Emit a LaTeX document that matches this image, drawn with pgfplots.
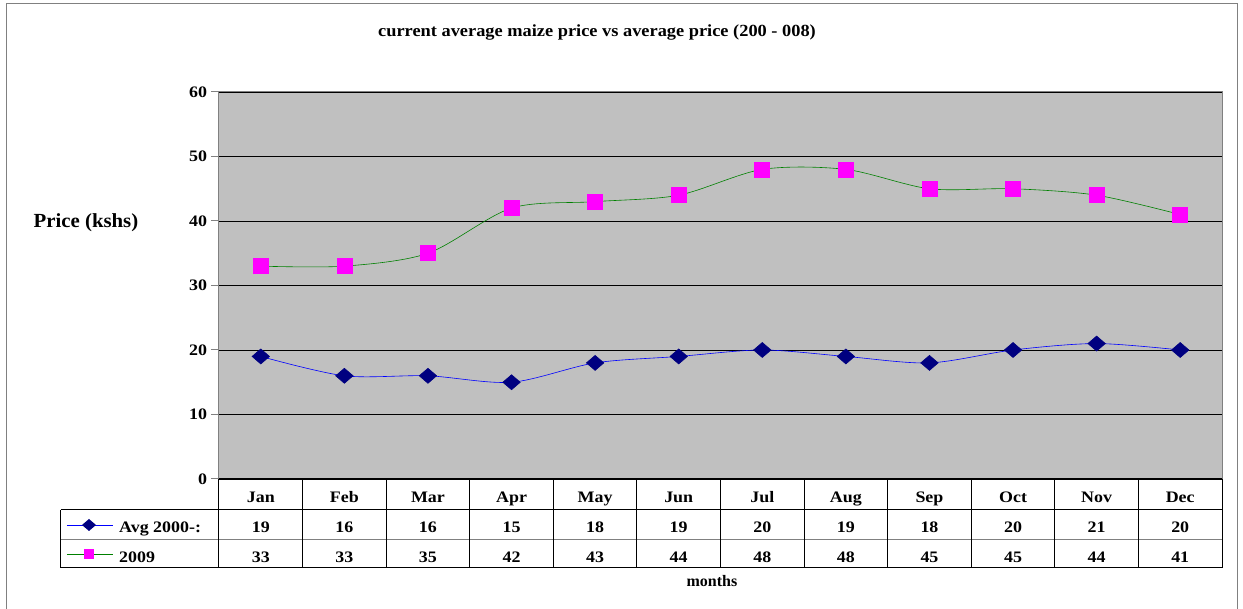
\documentclass[border=0pt]{standalone}
\usepackage{pgfplots}
\pgfplotsset{compat=1.18}
\usepackage{fontspec}
\setmainfont{Liberation Serif}
\definecolor{plotgray}{RGB}{192,192,192}
\definecolor{edgegray}{RGB}{128,128,128}
\definecolor{navy}{RGB}{0,0,128}
\definecolor{lineblue}{RGB}{0,0,255}
\definecolor{linegreen}{RGB}{0,128,0}
\definecolor{magenta2}{RGB}{255,0,255}
\begin{document}
\begin{tikzpicture}
\begin{axis}[
  scale only axis, width=1003pt, height=387pt,
  xmin=0.5, xmax=12.5, ymin=0, ymax=60,
  ytick={0,10,...,60},
  xtick={1,...,12},
  xticklabels={Jan,Feb,Mar,Apr,May,Jun,Jul,Aug,Sep,Oct,Nov,Dec},
  xtick style={draw=none},
  xticklabel style={font=\fontsize{16}{18}\selectfont\bfseries, xscale=1.12, anchor=base, yshift=-16pt},
  yticklabel style={font=\fontsize{16}{18}\selectfont\bfseries, xscale=1.12},
  /pgf/number format/assume math mode=true,
  ytick pos=left, tick align=outside, major tick length=8pt,
  ytick style={edgegray, line width=1pt},
  axis background/.style={fill=plotgray},
  axis line style={edgegray, line width=1pt},
  ymajorgrids, grid style={black, line width=0.8pt},
  clip=false,
]
\addplot[lineblue, line width=0.6pt, smooth, mark=diamond*, mark size=7.5pt,
  mark options={fill=navy, draw=navy, xscale=1.55}]
  coordinates {(1,19)(2,16)(3,16)(4,15)(5,18)(6,19)(7,20)(8,19)(9,18)(10,20)(11,21)(12,20)};
\addplot[linegreen, line width=0.6pt, smooth, mark=square*, mark size=7.5pt,
  mark options={fill=magenta2, draw=magenta2}]
  coordinates {(1,33)(2,33)(3,35)(4,42)(5,43)(6,44)(7,48)(8,48)(9,45)(10,45)(11,44)(12,41)};
\coordinate (sw) at (rel axis cs:0,0);
\end{axis}
\pgfresetboundingbox
\begin{scope}[shift={(sw)}, x=1pt, y=1pt, shift={(-219,-130)}]
\path[use as bounding box] (0,0) rectangle (1243,609);
\draw[edgegray, line width=1pt] (7,0) -- (7,605) -- (1237,605) -- (1237,0);
\node[font=\fontsize{17}{19}\selectfont\bfseries, xscale=1.08] at (597,577) {current average maize price vs average price (200 - 008)};
\node[font=\fontsize{20}{22}\selectfont\bfseries, xscale=1.04] at (86,386) {Price (kshs)};
% data table
\draw[black, line width=1pt] (219,130) -- (1222,130);
\draw[black, line width=1pt] (61,99) -- (1222,99);
\draw[edgegray, line width=1pt] (61,69) -- (1222,69);
\draw[black, line width=1pt] (61,41) -- (1222,41);
\draw[black, line width=1pt] (61,99) -- (61,41);
\foreach \k in {0,...,12} {
  \draw[black, line width=1pt] ({219+83.583*\k},130) -- ({219+83.583*\k},41);
}
\draw[lineblue, line width=0.6pt] (67,84) -- (113,84);
\fill[navy] (89,90) -- (96,84) -- (89,78) -- (82,84) -- cycle;
\draw[linegreen, line width=0.6pt] (67,55) -- (113,55);
\fill[magenta2] (84,50) rectangle (94,60);
\node[font=\fontsize{16}{18}\selectfont\bfseries, xscale=1.12, anchor=base west, inner sep=0pt] at (119,76) {Avg 2000-:};
\node[font=\fontsize{16}{18}\selectfont\bfseries, xscale=1.12, anchor=base west, inner sep=0pt] at (119,46) {2009};
\foreach \v [count=\i] in {19,16,16,15,18,19,20,19,18,20,21,20} {
  \node[font=\fontsize{16}{18}\selectfont\bfseries, xscale=1.12, anchor=base, inner sep=0pt] at ({219+83.583*(\i-0.5)},76) {\v};
}
\foreach \v [count=\i] in {33,33,35,42,43,44,48,48,45,45,44,41} {
  \node[font=\fontsize{16}{18}\selectfont\bfseries, xscale=1.12, anchor=base, inner sep=0pt] at ({219+83.583*(\i-0.5)},46) {\v};
}
\node[font=\fontsize{16}{18}\selectfont\bfseries, anchor=base] at (712,22) {months};
\end{scope}
\end{tikzpicture}
\end{document}
